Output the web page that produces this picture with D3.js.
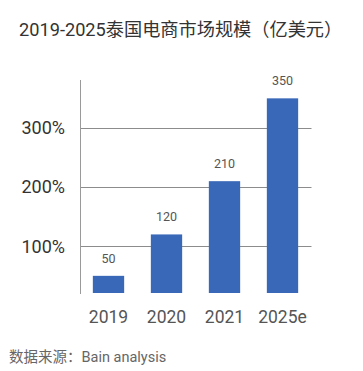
<!DOCTYPE html>
<html><head><meta charset="utf-8">
<script src="https://cdn.jsdelivr.net/npm/d3@7"></script>
<style>body{margin:0;background:#fff;}svg{display:block;}</style>
</head><body>
<script>
const categories = ["2019", "2020", "2021", "2025e"];
const values = [50, 120, 210, 350];
const yTicks = [100, 200, 300];
const yTickLabels = ["100%", "200%", "300%"];
const title = "2019-2025泰国电商市场规模（亿美元）";
const source = "数据来源：Bain analysis";

const W = 363, H = 371;
const svg = d3.select("body").append("svg").attr("width", W).attr("height", H);
svg.append("rect").attr("width", W).attr("height", H).attr("fill", "#fff");

const font = "Roboto, 'Noto Sans CJK SC', sans-serif";
const x = d3.scaleBand().domain(categories).range([79.5, 311.5]).paddingInner(0.46).paddingOuter(0.23);
const y = d3.scaleLinear().domain([21, 381]).range([293, 80]);

// gridlines
svg.append("g").selectAll("line").data(yTicks).join("line")
  .attr("x1", 80.5).attr("x2", 311.5)
  .attr("y1", d => Math.round(y(d)) + 0.5).attr("y2", d => Math.round(y(d)) + 0.5)
  .attr("stroke", "#8c8c8c").attr("stroke-width", 1);

// y axis line
svg.append("line").attr("x1", 80.5).attr("x2", 80.5).attr("y1", y(381)).attr("y2", y(21) + 1)
  .attr("stroke", "#9a9a9a").attr("stroke-width", 1);

// y tick labels
svg.append("g").selectAll("text").data(yTicks).join("text")
  .attr("x", 65).attr("y", d => y(d)).attr("dy", "0.35em")
  .attr("text-anchor", "end").attr("font-family", font).attr("font-size", 18)
  .attr("fill", "#333").text((d, i) => yTickLabels[i]);

// bars
svg.append("g").selectAll("rect").data(values).join("rect")
  .attr("x", (d, i) => x(categories[i])).attr("width", x.bandwidth())
  .attr("y", d => y(d)).attr("height", d => y(21) - y(d))
  .attr("fill", "#3a68b8");

// value labels
svg.append("g").selectAll("text").data(values).join("text")
  .attr("x", (d, i) => x(categories[i]) + x.bandwidth() / 2)
  .attr("y", d => y(d) - 13)
  .attr("text-anchor", "middle").attr("font-family", font).attr("font-size", 12.5)
  .attr("fill", "#555").text(d => d);

// x labels
svg.append("g").selectAll("text").data(categories).join("text")
  .attr("x", d => x(d) + x.bandwidth() / 2).attr("y", 317).attr("dy", "0.35em")
  .attr("text-anchor", "middle").attr("font-family", font).attr("font-size", 17.5)
  .attr("fill", "#555").text(d => d);

// title
svg.append("text").attr("x", 19).attr("y", 30).attr("dy", "0.35em")
  .attr("font-family", font).attr("font-size", 18.2).attr("fill", "#333").text(title);

// source
svg.append("text").attr("x", 9).attr("y", 357).attr("dy", "0.35em")
  .attr("font-family", font).attr("font-size", 14.5).attr("fill", "#666").text(source);
</script>
</body></html>
